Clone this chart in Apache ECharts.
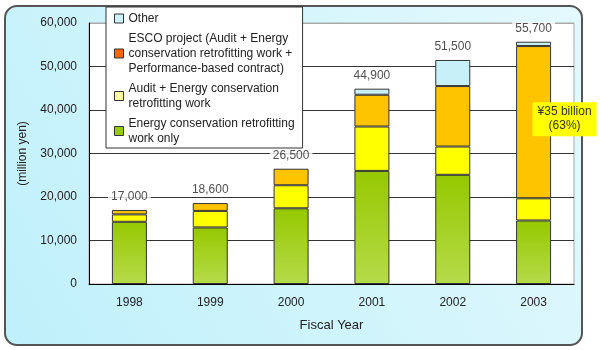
<!DOCTYPE html>
<html>
<head>
<meta charset="utf-8">
<script src="https://cdn.jsdelivr.net/npm/echarts@6/dist/echarts.min.js"></script>
<style>
  html, body { margin: 0; padding: 0; background: #fff; }
  #chart { width: 600px; height: 350px; }
</style>
</head>
<body>
<div id="chart"></div>
<script>
// data (million yen)
const years = ["1998", "1999", "2000", "2001", "2002", "2003"];
const retrofitOnly = [14300, 13000, 17400, 26000, 25100, 14600];
const auditRetrofit = [1700, 3800, 5300, 10200, 6500, 5100];
const escoProject = [1000, 1800, 3800, 7300, 13900, 35000];
const other = [0, 0, 0, 1400, 6000, 1000];
const totals = [17000, 18600, 26500, 44900, 51500, 55700];
const yTicks = [0, 10000, 20000, 30000, 40000, 50000, 60000];

const names = {
    other: "Other",
    esco: "ESCO project (Audit + Energy\nconservation retrofitting work +\nPerformance-based contract)",
    audit: "Audit + Energy conservation\nretrofitting work",
    retrofit: "Energy conservation retrofitting\nwork only"
};

const font = "'Liberation Sans', Arial, sans-serif";
const chart = echarts.init(document.getElementById("chart"));

const barBorder = { borderColor: "#333", borderWidth: 1 };

const option = {
    animation: false,
    textStyle: { fontFamily: font, color: "#222" },
    graphic: [{
        type: "rect",
        z: -10,
        shape: { x: 5, y: 6, width: 577, height: 339, r: 12 },
        style: {
            fill: new echarts.graphic.LinearGradient(0, 1, 1, 0, [
                { offset: 0, color: "#bff0fb" },
                { offset: 1, color: "#e4f9fd" }
            ]),
            stroke: "#555",
            lineWidth: 2
        }
    }],
    legend: {
        orient: "vertical",
        left: 106,
        top: 7,
        padding: [4, 8, 2, 8],
        itemGap: 5,
        itemWidth: 9,
        itemHeight: 9,
        icon: "rect",
        selectedMode: false,
        backgroundColor: "#fff",
        borderColor: "#333",
        borderWidth: 1,
        textStyle: { fontSize: 12, lineHeight: 15, color: "#222", fontFamily: font },
        data: [
            { name: names.other, itemStyle: { color: "#ccf2fa", borderColor: "#333", borderWidth: 1 } },
            { name: names.esco, itemStyle: { color: "#ff6600", borderColor: "#333", borderWidth: 1 } },
            { name: names.audit, itemStyle: { color: "#ffff99", borderColor: "#333", borderWidth: 1 } },
            { name: names.retrofit, itemStyle: { color: "#99cc00", borderColor: "#333", borderWidth: 1 } }
        ]
    },
    grid: {
        left: 89, right: 26, top: 23, bottom: 66,
        show: true,
        backgroundColor: "#fff",
        borderColor: "#aaa",
        borderWidth: 1
    },
    xAxis: {
        type: "category",
        data: years,
        name: "Fiscal Year",
        nameLocation: "middle",
        nameGap: 35,
        nameTextStyle: { fontSize: 13, color: "#222" },
        axisLine: { lineStyle: { color: "#000", width: 1 } },
        axisTick: { inside: true, length: 5, lineStyle: { color: "#333" } },
        axisLabel: { fontSize: 12, color: "#222", margin: 13 }
    },
    yAxis: {
        type: "value",
        min: yTicks[0],
        max: yTicks[yTicks.length - 1],
        interval: 10000,
        name: "(million yen)",
        nameLocation: "middle",
        nameGap: 60,
        nameTextStyle: { fontSize: 12, color: "#222" },
        axisLine: { show: true, lineStyle: { color: "#000", width: 1 } },
        axisTick: { show: false },
        axisLabel: {
            fontSize: 12, color: "#222", margin: 12,
            formatter: v => v.toLocaleString("en-US")
        },
        splitLine: { lineStyle: { color: ["#333", "#333", "#333", "#333", "#333", "#333", "#aaa"], width: 1 } }
    },
    series: [
        {
            name: names.retrofit, type: "bar", stack: "all", barWidth: 35,
            data: retrofitOnly,
            itemStyle: Object.assign({
                color: new echarts.graphic.LinearGradient(0, 0, 0, 1, [
                    { offset: 0, color: "#96c800" },
                    { offset: 1, color: "#b5db4a" }
                ])
            }, barBorder)
        },
        {
            name: names.audit, type: "bar", stack: "all", barWidth: 35,
            data: auditRetrofit,
            itemStyle: Object.assign({ color: "#ffff00" }, barBorder)
        },
        {
            name: names.esco, type: "bar", stack: "all", barWidth: 35,
            data: escoProject.map((v, i) => i === escoProject.length - 1 ? {
                value: v,
                label: {
                    show: true,
                    position: "inside",
                    offset: [31, -3],
                    formatter: "¥35 billion\n(63%)",
                    backgroundColor: "#ffff00",
                    padding: [3, 5],
                    lineHeight: 14,
                    fontSize: 12,
                    color: "#333",
                    align: "center"
                }
            } : v),
            itemStyle: Object.assign({ color: "#ffc400" }, barBorder)
        },
        {
            name: names.other, type: "bar", stack: "all", barWidth: 35,
            // zero segments are left out so they draw no extra edge
            data: other.map(v => v === 0 ? "-" : v),
            itemStyle: Object.assign({ color: "#c8f0f8" }, barBorder)
        },
        {
            name: "total", type: "scatter",
            data: totals,
            symbolSize: 0,
            silent: true,
            label: {
                show: true,
                position: "top",
                distance: 6,
                fontSize: 12,
                color: "#222",
                backgroundColor: "#fff",
                padding: [1, 3],
                formatter: p => p.value.toLocaleString("en-US")
            }
        }
    ]
};

chart.setOption(option);
</script>
</body>
</html>
